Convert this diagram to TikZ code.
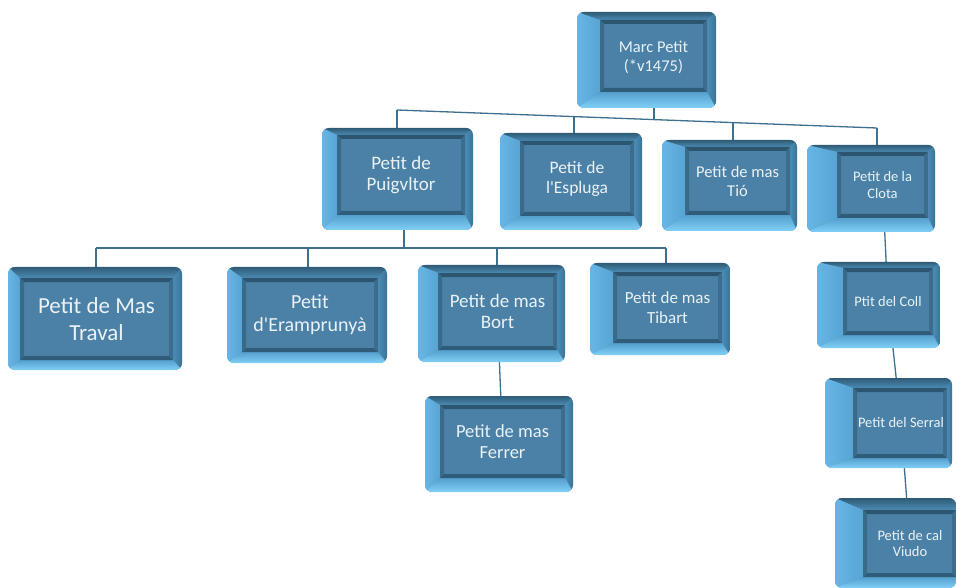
\documentclass[tikz,border=0pt]{standalone}
\usepackage{fontspec}
\setmainfont{Carlito}[Ligatures=TeXOff]
\usetikzlibrary{backgrounds}
\definecolor{connc}{HTML}{3D6F8E}
\definecolor{bevbase}{HTML}{4F93BE}
\definecolor{bevTt}{HTML}{2F5B76}
\definecolor{bevTb}{HTML}{4C8BB3}
\definecolor{bevLl}{HTML}{66B6E5}
\definecolor{bevLr}{HTML}{58A4D4}
\definecolor{bevRl}{HTML}{4B8DB7}
\definecolor{bevRr}{HTML}{3A7396}
\definecolor{bevBt}{HTML}{559FCD}
\definecolor{bevBb}{HTML}{80D0F7}
\definecolor{facec}{HTML}{4B81A6}
\definecolor{faceT}{HTML}{2C5670}
\definecolor{faceL}{HTML}{3A6A8A}
\definecolor{faceB}{HTML}{2F5C78}
\definecolor{faceR}{HTML}{3C6D8D}
\definecolor{txtc}{HTML}{EAF2F7}
\tikzset{
  conn/.style={draw=connc, line width=1.3pt},
  lbl/.style={text=txtc, align=center, inner sep=0pt}
}
\def\boxframe(#1,#2,#3,#4)(#5,#6,#7,#8){%
  \begin{scope}
    \clip[rounded corners=7pt] (#1,#2) rectangle (#3,#4);
    \fill[bevbase] (#1,#2) rectangle (#3,#4);
    \shade[top color=bevTt, bottom color=bevTb] (#1,#2)--(#3,#2)--(#7,#6)--(#5,#6)--cycle;
    \shade[left color=bevLl, right color=bevLr] (#1,#2)--(#5,#6)--(#5,#8)--(#1,#4)--cycle;
    \shade[left color=bevRl, right color=bevRr] (#3,#2)--(#7,#6)--(#7,#8)--(#3,#4)--cycle;
    \shade[top color=bevBt, bottom color=bevBb] (#1,#4)--(#5,#8)--(#7,#8)--(#3,#4)--cycle;
  \end{scope}
  \fill[facec] (#5,#6) rectangle (#7,#8);
  \fill[faceT] (#5,#6)--(#7,#6)--(#7-4,#6+4)--(#5+4,#6+4)--cycle;
  \fill[faceB] (#5,#8)--(#7,#8)--(#7-4,#8-4)--(#5+4,#8-4)--cycle;
  \fill[faceL] (#5,#6)--(#5+4,#6+4)--(#5+4,#8-4)--(#5,#8)--cycle;
  \fill[faceR] (#7,#6)--(#7-4,#6+4)--(#7-4,#8-4)--(#7,#8)--cycle;
}
\newcommand\fsz[1]{\fontsize{#1}{1.15\dimexpr#1pt\relax}\selectfont}
\begin{document}
\begin{tikzpicture}[x=1pt,y=-1pt]
\useasboundingbox (0,0) rectangle (956,588);
% boxes
\boxframe(577,12,716,108)(600,20,707,92)
\node[lbl, font=\fsz{16.5}] (top) at (653.5,57) {Marc Petit\\(*v1475)};
\boxframe(322,128,473,230)(337,135,465,215)
\node[lbl, font=\fsz{19}] (puig) at (401,175) {Petit de\\Puigvltor};
\boxframe(500,133,642,230)(520,141,634,216)
\node[lbl, font=\fsz{17.5}] (espl) at (577,178.5) {Petit de\\l'Espluga};
\boxframe(662,140,797,231)(685,147,790,215)
\node[lbl, font=\fsz{16.5}] (tio) at (737.5,181) {Petit de mas\\Tió};
\boxframe(807,145,935,232)(837,152,928,218)
\node[lbl, font=\fsz{14.5}] (clota) at (882.5,185) {Petit de la\\Clota};
\boxframe(8,267,182,370)(20,278,173,360)
\node[lbl, font=\fsz{23}] (traval) at (96.5,319) {Petit de Mas\\Traval};
\boxframe(227,267,387,363)(242,278,378,352)
\node[lbl, font=\fsz{20}] (eram) at (310,315) {Petit\\d'Eramprunyà};
\boxframe(418,265,565,362)(438,273,557,350)
\node[lbl, font=\fsz{19}] (bort) at (497.5,311.5) {Petit de mas\\Bort};
\boxframe(590,263,730,355)(613,272,722,343)
\node[lbl, font=\fsz{17}] (tibart) at (667.5,307.5) {Petit de mas\\Tibart};
\boxframe(817,262,940,348)(843,268,933,335)
\node[lbl, font=\fsz{14.5}] (coll) at (888,301.5) {Ptit del Coll};
\boxframe(825,378,952,468)(853,388,947,458)
\node[lbl, font=\fsz{14.5}] (serral) at (901,423) {Petit del Serral};
\boxframe(835,498,956,588)(863,510,956,577)
\node[lbl, font=\fsz{14.5}] (viudo) at (910,543.5) {Petit de cal\\Viudo};
\boxframe(425,396,573,492)(440,405,565,478)
\node[lbl, font=\fsz{18.5}] (ferrer) at (502.5,441.5) {Petit de mas\\Ferrer};
% connectors
\coordinate (jP) at (397,110);
\coordinate (jE) at (574,116.6);
\coordinate (j0) at (654,119.6);
\coordinate (jT) at (733,122.6);
\coordinate (jC) at (877,128);
\coordinate (k0) at (404,248);
\coordinate (kA) at (96,248);
\coordinate (kB) at (308,248);
\coordinate (kC) at (497,248);
\coordinate (kD) at (666,248);
\begin{pgfonlayer}{background}
\draw[conn] (jP) -- (jE) -- (j0) -- (jT) -- (jC);
\draw[conn] (j0 |- top) -- (j0);
\draw[conn] (jP) -- (jP |- puig);
\draw[conn] (jE) -- (jE |- espl);
\draw[conn] (jT) -- (jT |- tio);
\draw[conn] (jC) -- (jC |- clota);
\draw[conn] (kA) -- (kD);
\draw[conn] (k0 |- puig) -- (k0);
\draw[conn] (kA) -- (kA |- traval);
\draw[conn] (kB) -- (kB |- eram);
\draw[conn] (kC) -- (kC |- bort);
\draw[conn] (kD) -- (kD |- tibart);
\draw[conn] (clota) -- (coll);
\draw[conn] (coll) -- (serral);
\draw[conn] (serral) -- (viudo);
\draw[conn] (bort) -- (ferrer);
\end{pgfonlayer}
\end{tikzpicture}
\end{document}
